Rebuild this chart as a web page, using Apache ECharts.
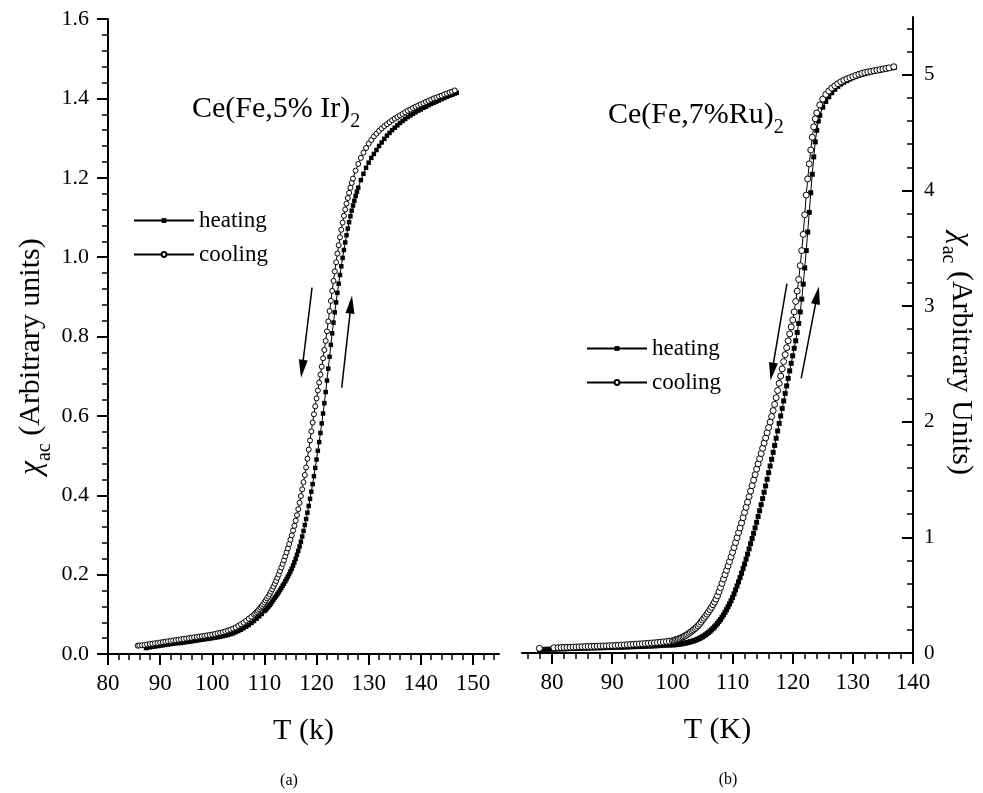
<!DOCTYPE html>
<html><head><meta charset="utf-8">
<script src="https://cdn.jsdelivr.net/npm/echarts@6/dist/echarts.min.js"></script>
<style>html,body{margin:0;padding:0;background:#fff}#c{width:983px;height:793px}</style>
</head><body><div id="c"></div>
<script>
const FONT = '"Liberation Serif","Times New Roman",serif';

// ---- Panel (a): Ce(Fe,5% Ir)2 ----
const heatA = [[87.3,0.015],[87.5,0.016],[88,0.017],[88.5,0.018],[89,0.019],[89.5,0.020],[90,0.021],[90.5,0.022],[91,0.023],[91.5,0.024],[92,0.025],[92.5,0.026],[93,0.027],[93.5,0.0275],[94,0.028],[94.5,0.029],[95,0.030],[95.5,0.031],[96,0.032],[96.5,0.033],[97,0.034],[97.5,0.035],[98,0.036],[98.5,0.037],[99,0.038],[99.5,0.039],[100,0.040],[100.5,0.041],[101,0.042],[101.5,0.0435],[102,0.045],[102.5,0.0465],[103,0.048],[103.5,0.050],[104,0.052],[104.5,0.055],[105,0.058],[105.5,0.061],[106,0.065],[106.5,0.069],[107,0.073],[107.5,0.078],[108,0.083],[108.5,0.089],[109,0.095],[109.5,0.101],[110,0.108],[110.25,0.111],[110.5,0.115],[110.75,0.119],[111,0.123],[111.25,0.127],[111.5,0.132],[111.75,0.137],[112,0.142],[112.25,0.146],[112.5,0.151],[112.75,0.156],[113,0.161],[113.25,0.166],[113.5,0.172],[113.75,0.177],[114,0.183],[114.25,0.189],[114.5,0.195],[114.75,0.201],[115,0.208],[115.25,0.215],[115.5,0.223],[115.75,0.231],[116,0.240],[116.25,0.250],[116.5,0.260],[116.75,0.271],[117,0.283],[117.25,0.296],[117.5,0.310],[117.75,0.325],[118,0.340],[118.25,0.356],[118.5,0.373],[118.75,0.391],[119,0.409],[119.25,0.428],[119.5,0.448],[119.75,0.469],[120,0.490],[120.25,0.512],[120.5,0.534],[120.75,0.557],[121,0.581],[121.25,0.606],[121.5,0.632],[121.75,0.660],[122,0.689],[122.25,0.719],[122.5,0.749],[122.75,0.779],[123,0.808],[123.25,0.835],[123.5,0.861],[123.75,0.886],[124,0.910],[124.25,0.933],[124.5,0.955],[124.75,0.977],[125,0.998],[125.25,1.018],[125.5,1.037],[125.75,1.055],[126,1.072],[126.25,1.088],[126.5,1.103],[126.75,1.117],[127,1.130],[127.25,1.142],[127.5,1.154],[127.75,1.165],[128,1.175],[128.5,1.194],[129,1.210],[129.5,1.225],[130,1.238],[130.5,1.250],[131,1.260],[131.5,1.270],[132,1.280],[132.5,1.289],[133,1.298],[133.5,1.306],[134,1.313],[134.5,1.320],[135,1.326],[135.5,1.332],[136,1.338],[136.5,1.343],[137,1.348],[137.5,1.353],[138,1.357],[138.5,1.361],[139,1.365],[139.5,1.369],[140,1.372],[140.5,1.376],[141,1.379],[141.5,1.383],[142,1.386],[142.5,1.389],[143,1.392],[143.5,1.395],[144,1.398],[144.5,1.401],[145,1.404],[145.5,1.407],[146,1.409],[146.5,1.412],[146.9,1.414]];
const coolA = [[85.7,0.021],[86,0.0215],[86.5,0.022],[87,0.023],[87.5,0.024],[88,0.025],[88.5,0.026],[89,0.027],[89.5,0.028],[90,0.029],[90.5,0.030],[91,0.031],[91.5,0.032],[92,0.033],[92.5,0.034],[93,0.035],[93.5,0.036],[94,0.037],[94.5,0.038],[95,0.039],[95.5,0.040],[96,0.041],[96.5,0.042],[97,0.043],[97.5,0.044],[98,0.045],[98.5,0.046],[99,0.047],[99.5,0.048],[100,0.049],[100.5,0.0505],[101,0.052],[101.5,0.0535],[102,0.055],[102.5,0.057],[103,0.059],[103.5,0.0615],[104,0.064],[104.5,0.067],[105,0.071],[105.5,0.075],[106,0.079],[106.5,0.084],[107,0.089],[107.5,0.094],[108,0.099],[108.25,0.102],[108.5,0.106],[108.75,0.109],[109,0.113],[109.25,0.117],[109.5,0.121],[109.75,0.125],[110,0.130],[110.25,0.135],[110.5,0.140],[110.75,0.145],[111,0.151],[111.25,0.157],[111.5,0.163],[111.75,0.170],[112,0.177],[112.25,0.184],[112.5,0.192],[112.75,0.200],[113,0.209],[113.25,0.218],[113.5,0.227],[113.75,0.236],[114,0.246],[114.25,0.256],[114.5,0.266],[114.75,0.277],[115,0.288],[115.25,0.299],[115.5,0.311],[115.75,0.323],[116,0.336],[116.25,0.350],[116.5,0.365],[116.75,0.381],[117,0.398],[117.25,0.415],[117.5,0.433],[117.75,0.451],[118,0.470],[118.25,0.492],[118.5,0.515],[118.75,0.538],[119,0.561],[119.25,0.583],[119.5,0.604],[119.75,0.624],[120,0.644],[120.25,0.664],[120.5,0.684],[120.75,0.704],[121,0.724],[121.25,0.745],[121.5,0.766],[121.75,0.789],[122,0.813],[122.25,0.838],[122.5,0.864],[122.75,0.890],[123,0.915],[123.25,0.940],[123.5,0.964],[123.75,0.987],[124,1.009],[124.25,1.030],[124.5,1.050],[124.75,1.069],[125,1.087],[125.25,1.104],[125.5,1.120],[125.75,1.135],[126,1.149],[126.25,1.162],[126.5,1.175],[126.75,1.187],[127,1.198],[127.5,1.218],[128,1.235],[128.5,1.250],[129,1.263],[129.5,1.275],[130,1.286],[130.5,1.295],[131,1.304],[131.5,1.311],[132,1.318],[132.5,1.324],[133,1.330],[133.5,1.335],[134,1.340],[134.5,1.345],[135,1.349],[135.5,1.353],[136,1.357],[136.5,1.361],[137,1.365],[137.5,1.369],[138,1.372],[138.5,1.376],[139,1.379],[139.5,1.382],[140,1.385],[140.5,1.388],[141,1.391],[141.5,1.394],[142,1.397],[142.5,1.400],[143,1.402],[143.5,1.405],[144,1.407],[144.5,1.410],[145,1.412],[145.5,1.415],[146,1.417],[146.5,1.420]];

// ---- Panel (b): Ce(Fe,7%Ru)2 ----
const heatB = [[77.9,0.030],[78.5,0.031],[79,0.032],[79.5,0.0325],[80,0.033],[80.5,0.034],[81,0.035],[81.5,0.0355],[82,0.036],[82.5,0.037],[83,0.038],[83.5,0.0385],[84,0.039],[84.5,0.040],[85,0.041],[85.5,0.0415],[86,0.042],[86.5,0.043],[87,0.044],[87.5,0.0445],[88,0.045],[88.5,0.046],[89,0.047],[89.5,0.0475],[90,0.048],[90.5,0.049],[91,0.050],[91.5,0.0505],[92,0.051],[92.5,0.052],[93,0.053],[93.5,0.054],[94,0.055],[94.5,0.056],[95,0.057],[95.5,0.058],[96,0.059],[96.5,0.060],[97,0.061],[97.5,0.0625],[98,0.064],[98.5,0.0655],[99,0.067],[99.5,0.0685],[100,0.070],[100.25,0.071],[100.5,0.072],[100.75,0.0735],[101,0.075],[101.25,0.077],[101.5,0.079],[101.75,0.0815],[102,0.084],[102.25,0.087],[102.5,0.090],[102.75,0.0935],[103,0.097],[103.25,0.101],[103.5,0.105],[103.75,0.1095],[104,0.114],[104.25,0.120],[104.5,0.126],[104.75,0.133],[105,0.140],[105.25,0.148],[105.5,0.157],[105.75,0.167],[106,0.177],[106.25,0.188],[106.5,0.200],[106.75,0.213],[107,0.226],[107.25,0.241],[107.5,0.256],[107.75,0.273],[108,0.290],[108.25,0.310],[108.5,0.330],[108.75,0.352],[109,0.375],[109.25,0.400],[109.5,0.425],[109.75,0.452],[110,0.480],[110.25,0.512],[110.5,0.545],[110.75,0.580],[111,0.615],[111.25,0.652],[111.5,0.690],[111.75,0.730],[112,0.770],[112.25,0.812],[112.5,0.855],[112.75,0.900],[113,0.945],[113.25,0.990],[113.5,1.035],[113.75,1.082],[114,1.130],[114.25,1.180],[114.5,1.230],[114.75,1.282],[115,1.335],[115.25,1.390],[115.5,1.445],[115.75,1.502],[116,1.560],[116.25,1.617],[116.5,1.675],[116.75,1.735],[117,1.795],[117.25,1.857],[117.5,1.920],[117.75,1.985],[118,2.050],[118.25,2.115],[118.5,2.180],[118.75,2.245],[119,2.310],[119.25,2.375],[119.5,2.440],[119.75,2.505],[120,2.570],[120.25,2.635],[120.5,2.700],[120.75,2.772],[121,2.850],[121.25,2.950],[121.5,3.060],[121.75,3.190],[122,3.330],[122.25,3.480],[122.5,3.640],[122.75,3.810],[123,3.980],[123.25,4.140],[123.5,4.290],[123.75,4.420],[124,4.520],[124.25,4.600],[124.5,4.650],[125,4.720],[125.5,4.770],[126,4.810],[126.5,4.845],[127,4.875],[127.5,4.900],[128,4.920],[128.5,4.936],[129,4.950],[129.5,4.963],[130,4.975],[130.5,4.985],[131,4.995],[131.5,5.003],[132,5.010],[132.5,5.018],[133,5.025],[133.5,5.030],[134,5.035],[134.5,5.040],[135,5.045],[135.5,5.050],[136,5.055],[136.5,5.060],[136.9,5.065]];
const coolB = [[77.9,0.040],[80.3,0.045],[81,0.046],[81.5,0.047],[82,0.048],[82.5,0.049],[83,0.050],[83.5,0.051],[84,0.052],[84.5,0.053],[85,0.054],[85.5,0.055],[86,0.056],[86.5,0.057],[87,0.058],[87.5,0.059],[88,0.060],[88.5,0.061],[89,0.062],[89.5,0.063],[90,0.064],[90.5,0.0655],[91,0.067],[91.5,0.0685],[92,0.070],[92.5,0.0715],[93,0.073],[93.5,0.075],[94,0.077],[94.5,0.0785],[95,0.080],[95.5,0.082],[96,0.084],[96.5,0.086],[97,0.088],[97.5,0.0905],[98,0.093],[98.5,0.096],[99,0.099],[99.5,0.102],[100,0.105],[100.25,0.109],[100.5,0.113],[100.75,0.1175],[101,0.122],[101.25,0.127],[101.5,0.133],[101.75,0.139],[102,0.146],[102.25,0.153],[102.5,0.161],[102.75,0.170],[103,0.180],[103.25,0.190],[103.5,0.200],[103.75,0.211],[104,0.222],[104.25,0.235],[104.5,0.250],[104.75,0.267],[105,0.285],[105.25,0.301],[105.5,0.318],[105.75,0.336],[106,0.355],[106.25,0.375],[106.5,0.395],[106.75,0.417],[107,0.440],[107.25,0.466],[107.5,0.495],[107.75,0.529],[108,0.565],[108.25,0.602],[108.5,0.640],[108.75,0.677],[109,0.715],[109.25,0.752],[109.5,0.790],[109.75,0.830],[110,0.870],[110.25,0.912],[110.5,0.955],[110.75,0.997],[111,1.040],[111.25,1.082],[111.5,1.125],[111.75,1.170],[112,1.215],[112.25,1.260],[112.5,1.305],[112.75,1.352],[113,1.400],[113.25,1.447],[113.5,1.495],[113.75,1.542],[114,1.590],[114.25,1.635],[114.5,1.680],[114.75,1.725],[115,1.770],[115.25,1.815],[115.5,1.860],[115.75,1.905],[116,1.950],[116.25,1.997],[116.5,2.045],[116.75,2.096],[117,2.150],[117.25,2.208],[117.5,2.270],[117.75,2.332],[118,2.395],[118.25,2.457],[118.5,2.520],[118.75,2.580],[119,2.640],[119.25,2.700],[119.5,2.760],[119.75,2.820],[120,2.880],[120.25,2.950],[120.5,3.040],[120.75,3.130],[121,3.230],[121.25,3.350],[121.5,3.480],[121.75,3.620],[122,3.790],[122.25,3.960],[122.5,4.100],[122.75,4.230],[123,4.350],[123.25,4.460],[123.5,4.550],[123.75,4.620],[124,4.670],[124.5,4.740],[125,4.790],[125.5,4.830],[126,4.860],[126.5,4.885],[127,4.905],[127.5,4.923],[128,4.940],[128.5,4.953],[129,4.965],[129.5,4.975],[130,4.985],[130.5,4.995],[131,5.005],[131.5,5.013],[132,5.020],[132.5,5.025],[133,5.030],[133.5,5.035],[134,5.040],[134.5,5.045],[135,5.050],[135.5,5.055],[136,5.060],[136.8,5.070]];

// arrows (tail -> head centre), in data units
const arrowsA = [[[119.14,0.923],[117.24,0.7185]], [[124.83,0.671],[126.61,0.8805]]];
const arrowsB = [[[119.04,3.195],[116.56,2.434]], [[121.41,2.374],[124.07,3.093]]];

// tick values
const xTicksA = [80,90,100,110,120,130,140,150];
const xTicksB = [80,90,100,110,120,130,140];
const yTicksB = [0,1,2,3,4,5];
const xMinorA = [], xMinorB = [], yMinorB = [];
for (let v = 82; v <= 154; v += 2) if (v % 10) xMinorA.push(v);
for (let v = 76; v <= 138; v += 2) if (v % 10) xMinorB.push(v);
for (let i = 1; i <= 27; i++) if (i % 5) yMinorB.push(+(i * 0.2).toFixed(1));

const xLabelFont = {fontFamily: FONT, fontSize: 23, color: '#000'};
const yLabelFontA = {fontFamily: FONT, fontSize: 22, color: '#000'};
const yLabelFontB = {fontFamily: FONT, fontSize: 21, color: '#000'};
const majorTickStyle = {color: '#000', width: 2};
const minorTickStyle = {color: '#000', width: 1.5};

function arrowLine(list) {
  return {
    silent: true, symbol: ['none', 'triangle'], symbolSize: [9, 18], animation: false,
    lineStyle: {type: 'solid', color: '#000', width: 1.5}, label: {show: false},
    emphasis: {disabled: true},
    data: list.map(a => [{coord: a[0]}, {coord: a[1]}])
  };
}
const richTitle = {
  m: {fontFamily: FONT, fontSize: 30, lineHeight: 46, fill: '#000', color: '#000'},
  s: {fontFamily: FONT, fontSize: 20, lineHeight: 20, verticalAlign: 'top', padding: [26, 0, 0, 0], fill: '#000', color: '#000'}
};
const richAxis = {
  c: {fontFamily: FONT, fontStyle: 'italic', fontSize: 31, lineHeight: 46, fill: '#000', color: '#000'},
  m: {fontFamily: FONT, fontSize: 30, lineHeight: 46, fill: '#000', color: '#000'},
  s: {fontFamily: FONT, fontSize: 20, lineHeight: 20, verticalAlign: 'top', padding: [26, 0, 0, 0], fill: '#000', color: '#000'}
};
const legendText = {fontFamily: FONT, fontSize: 23, lineHeight: 22, color: '#000'};

const chart = echarts.init(document.getElementById('c'));
chart.setOption({
  animation: false,
  backgroundColor: '#fff',
  grid: [
    {left: 108, top: 19, width: 391, height: 635},
    {left: 522, top: 17, width: 391, height: 636}
  ],
  xAxis: [
    {gridIndex: 0, type: 'value', min: 80, max: 155, position: 'bottom',
     name: 'T (k)', nameLocation: 'middle', nameGap: 62,
     nameTextStyle: {fontFamily: FONT, fontSize: 30, color: '#000'},
     axisLine: {onZero: false, lineStyle: {color: '#000', width: 2}},
     axisTick: {show: true, length: 11, customValues: xTicksA, lineStyle: majorTickStyle},
     axisLabel: Object.assign({margin: 18, customValues: xTicksA}, xLabelFont),
     splitLine: {show: false}},
    {gridIndex: 0, type: 'value', min: 80, max: 155, position: 'bottom',
     axisLine: {show: false}, axisLabel: {show: false}, splitLine: {show: false},
     axisTick: {show: true, length: 6, customValues: xMinorA, lineStyle: minorTickStyle}},
    {gridIndex: 1, type: 'value', min: 75, max: 140, position: 'bottom',
     name: 'T (K)', nameLocation: 'middle', nameGap: 62,
     nameTextStyle: {fontFamily: FONT, fontSize: 30, color: '#000'},
     axisLine: {onZero: false, lineStyle: {color: '#000', width: 2}},
     axisTick: {show: true, length: 11, customValues: xTicksB, lineStyle: majorTickStyle},
     axisLabel: Object.assign({margin: 18, customValues: xTicksB}, xLabelFont),
     splitLine: {show: false}},
    {gridIndex: 1, type: 'value', min: 75, max: 140, position: 'bottom',
     axisLine: {show: false}, axisLabel: {show: false}, splitLine: {show: false},
     axisTick: {show: true, length: 6, customValues: xMinorB, lineStyle: minorTickStyle}}
  ],
  yAxis: [
    {gridIndex: 0, type: 'value', min: 0, max: 1.6, interval: 0.2, position: 'left',
     axisLine: {onZero: false, lineStyle: {color: '#000', width: 2}},
     axisTick: {show: true, length: 11, lineStyle: majorTickStyle},
     minorTick: {show: true, splitNumber: 5, length: 6, lineStyle: minorTickStyle},
     axisLabel: Object.assign({margin: 19, formatter: v => v.toFixed(1)}, yLabelFontA),
     splitLine: {show: false}},
    {gridIndex: 1, type: 'value', min: 0, max: 5.5, position: 'right',
     axisLine: {onZero: false, lineStyle: {color: '#000', width: 2}},
     axisTick: {show: true, inside: true, length: 11, customValues: yTicksB, lineStyle: majorTickStyle},
     axisLabel: Object.assign({margin: 11, customValues: yTicksB}, yLabelFontB),
     splitLine: {show: false}},
    {gridIndex: 1, type: 'value', min: 0, max: 5.5, position: 'right',
     axisLine: {show: false}, axisLabel: {show: false}, splitLine: {show: false},
     axisTick: {show: true, inside: true, length: 6, customValues: yMinorB, lineStyle: minorTickStyle}}
  ],
  legend: [
    {data: ['heating', 'cooling'], orient: 'vertical', left: 133, top: 209, padding: 0,
     itemWidth: 60, itemHeight: 6, itemGap: 11, selectedMode: false, textStyle: legendText},
    {data: ['heating', 'cooling'], orient: 'vertical', left: 586, top: 337, padding: 0,
     itemWidth: 60, itemHeight: 6, itemGap: 11, selectedMode: false, textStyle: legendText}
  ],
  series: [
    {type: 'line', name: 'heating', xAxisIndex: 0, yAxisIndex: 0, data: heatA,
     symbol: 'rect', symbolSize: 4.5, lineStyle: {color: '#000', width: 1},
     itemStyle: {color: '#000'}, emphasis: {disabled: true}},
    {type: 'line', name: 'cooling', xAxisIndex: 0, yAxisIndex: 0, data: coolA,
     symbol: 'circle', symbolSize: 5, lineStyle: {color: '#000', width: 1},
     itemStyle: {color: '#fff', borderColor: '#000', borderWidth: 1}, emphasis: {disabled: true},
     markLine: arrowLine(arrowsA)},
    {type: 'line', name: 'heating', xAxisIndex: 2, yAxisIndex: 1, data: heatB,
     symbol: 'rect', symbolSize: 5, lineStyle: {color: '#000', width: 1},
     itemStyle: {color: '#000'}, emphasis: {disabled: true}},
    {type: 'line', name: 'cooling', xAxisIndex: 2, yAxisIndex: 1, data: coolB,
     symbol: 'circle', symbolSize: 6, lineStyle: {color: '#000', width: 1},
     itemStyle: {color: '#fff', borderColor: '#000', borderWidth: 1}, emphasis: {disabled: true},
     markLine: arrowLine(arrowsB)}
  ],
  graphic: [
    {type: 'text', x: 192, y: 86, silent: true,
     style: {text: '{m|Ce(Fe,5% Ir)}{s|2}', align: 'left', verticalAlign: 'top', rich: richTitle}},
    {type: 'text', x: 608, y: 92, silent: true,
     style: {text: '{m|Ce(Fe,7%Ru)}{s|2}', align: 'left', verticalAlign: 'top', rich: richTitle}},
    {type: 'text', x: 31.5, y: 356.5, rotation: Math.PI / 2, silent: true,
     style: {text: '{c|χ}{s|ac}{m| (Arbitrary units)}', align: 'center', verticalAlign: 'middle', rich: richAxis}},
    {type: 'text', x: 961, y: 353.5, rotation: -Math.PI / 2, silent: true,
     style: {text: '{c|χ}{s|ac}{m| (Arbitrary Units)}', align: 'center', verticalAlign: 'middle', rich: richAxis}},
    {type: 'text', x: 289, y: 781, silent: true,
     style: {text: '(a)', align: 'center', verticalAlign: 'middle', font: '16px ' + FONT, fill: '#000'}},
    {type: 'text', x: 728, y: 780, silent: true,
     style: {text: '(b)', align: 'center', verticalAlign: 'middle', font: '16px ' + FONT, fill: '#000'}}
  ]
});
</script>
</body></html>
